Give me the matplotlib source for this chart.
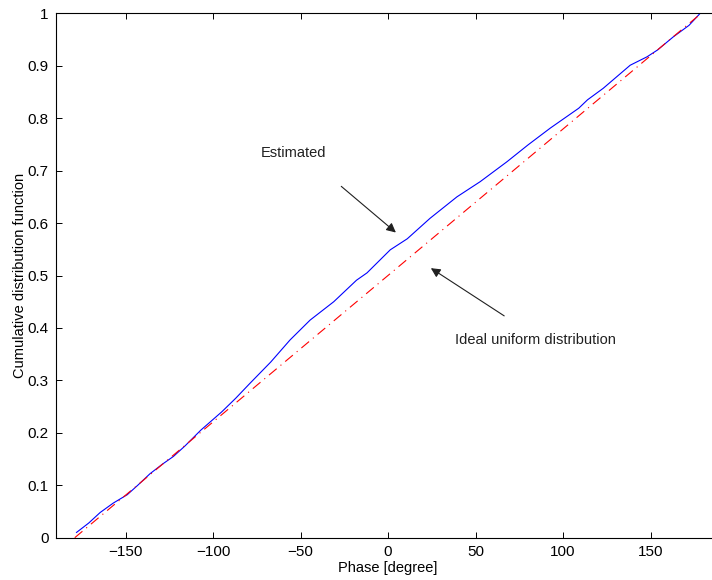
import numpy as np
import matplotlib
matplotlib.use("Agg")
import matplotlib.pyplot as plt

plt.rcParams['font.family'] = ['Liberation Sans', 'DejaVu Sans']
plt.rcParams['lines.scale_dashes'] = False

# estimated CDF of the phase
est_phase = [-178, -171, -164.5, -157, -149, -143, -136, -129, -122.6, -116, -107,
             -95, -87, -79, -67, -56, -44.5, -31, -18, -12, 1.3, 11, 24, 39.4,
             52.7, 68, 80, 92.7, 109, 114, 123, 138.4, 148, 154, 163, 172, 178.4]
est_cdf = [0.010, 0.028, 0.048, 0.066, 0.082, 0.100, 0.122, 0.140, 0.155, 0.175,
           0.205, 0.240, 0.266, 0.294, 0.335, 0.377, 0.415, 0.450, 0.491, 0.505,
           0.549, 0.570, 0.609, 0.650, 0.679, 0.717, 0.749, 0.781, 0.819, 0.835,
           0.857, 0.901, 0.917, 0.930, 0.955, 0.977, 1.0]

# ideal uniform distribution
ideal_phase = [-179, 179]
ideal_cdf = [0, 1]

xticks = [-150, -100, -50, 0, 50, 100, 150]
yticks = [0, 0.1, 0.2, 0.3, 0.4, 0.5, 0.6, 0.7, 0.8, 0.9, 1]

fig = plt.figure(figsize=(7.12, 5.8), dpi=100)
# axes runs a little past the right edge, as in the cropped original
ax = fig.add_axes([55.5 / 712, 42.3 / 580, 665 / 712, 524.4 / 580])

ax.plot(est_phase, est_cdf, color=(0, 0, 1), lw=0.8)
ax.plot(ideal_phase, ideal_cdf, color=(1, 0, 0), lw=0.8, dashes=[7.2, 3.6, 0.8, 3.6])

ax.set_xlim(-190, 190)
ax.set_ylim(0, 1)
ax.set_xticks(xticks)
ax.set_yticks(yticks)
ax.set_yticklabels(['0', '0.1', '0.2', '0.3', '0.4', '0.5', '0.6', '0.7', '0.8', '0.9', '1'])
ax.tick_params(direction='in', length=4.5, width=0.7, labelsize=11,
               top=True, right=True, pad=5)
for s in ax.spines.values():
    s.set_linewidth(0.8)

ax.set_xlabel('Phase [degree]', fontsize=10.5, labelpad=2)
ax.set_ylabel('Cumulative distribution function', fontsize=10.5, labelpad=0)

arrow = dict(arrowstyle='-|>', color='#202020', lw=0.8, mutation_scale=14,
             shrinkA=0, shrinkB=0)
ax.annotate('', xy=(4.5, 0.582), xytext=(-26.7, 0.670), arrowprops=arrow)
ax.annotate('', xy=(24.5, 0.514), xytext=(66.4, 0.423), arrowprops=arrow)
ax.text(-72.6, 0.734, 'Estimated', fontsize=10.5, va='center', ha='left', color='#202020')
ax.text(38.4, 0.377, 'Ideal uniform distribution', fontsize=10.5, va='center',
        ha='left', color='#202020')

fig.savefig('out.png', dpi=100)
